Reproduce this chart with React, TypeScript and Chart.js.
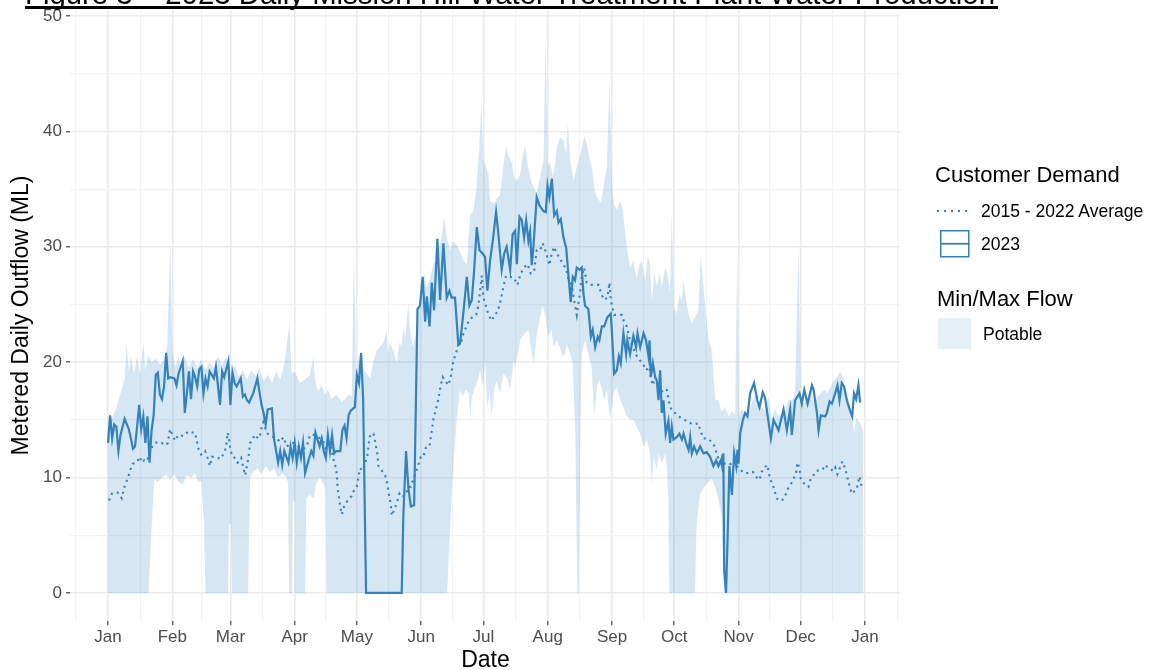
import React, { useEffect, useRef } from 'react';
import { Chart, registerables } from 'chart.js';

Chart.register(...registerables);

// ---------- axis definitions ----------
const monthDays = [0, 31, 59, 90, 120, 151, 181, 212, 243, 273, 304, 334, 365];
const monthLabels = ['Jan', 'Feb', 'Mar', 'Apr', 'May', 'Jun', 'Jul', 'Aug', 'Sep', 'Oct', 'Nov', 'Dec', 'Jan'];
const minorDays = [-15.5, 15.5, 45, 74.5, 105, 135.5, 166, 196.5, 227.5, 258, 288.5, 319, 349.5, 380.5];
const yTickValues = [0, 5, 10, 15, 20, 25, 30, 35, 40, 45, 50];

// ---------- 2023 daily outflow (day of year, ML) ----------
const days2023 = [
  0, 1, 2, 3, 4, 5, 6, 8, 10, 11, 12, 13, 14, 15, 16, 17, 18, 19, 20, 21, 22, 23, 24, 25, 26, 27, 28, 29, 30, 32, 33, 34, 36, 37, 38, 39, 40, 41, 42, 43, 44, 45, 46, 47, 48, 49, 51, 52, 54, 55, 56, 58, 59, 60, 61, 62, 64, 65, 66, 67, 68, 70, 72, 74, 75, 76, 77, 79, 80, 82, 83, 84, 85, 87, 88,
  89, 90, 91, 92, 93, 94, 95, 97, 98, 99, 100, 102, 103, 104, 105, 106, 107, 108, 109, 110, 112, 113, 114, 115, 116, 117, 119, 120, 121, 122, 123, 124.4, 141.6, 142.4, 143.7, 144.8, 146, 147.6,
  149.2, 150.4, 151.7, 152.9, 153.7, 155, 156.1, 157.2, 158.8, 160.1, 161.7, 163.3, 164.6, 165.7, 167.3, 168.9, 169.7, 171.3, 173, 174.2, 175.4, 176.5, 177.8, 179.1, 180.7, 181.8, 182.9, 184.2, 185.5, 187.1, 188.2, 189.8, 191, 192.2, 193.9, 195.1, 196.3, 197.1, 198.4, 199.5, 200.6, 201.6, 202.7, 203.5, 204.3, 205.1, 206.7, 208, 209.9, 211.1, 211.9, 212.8, 214, 215.1, 216.4, 217.2, 218.3, 219.6, 220.9, 222, 223.1, 224.1, 225.2, 226, 227.3, 228.4, 229.2, 230, 231.6, 232.8, 233.7, 234.9, 236.1, 236.9, 238.1, 239.2, 240.8, 242.4, 243, 244, 245.3, 246.3, 247.2, 248.5, 249.8, 250.4, 251.7, 253.3, 254.6, 255.3, 256.6, 258.2, 259.4, 260.6, 261.1, 261.7, 262.7, 263.8, 264.6, 265.4, 266.2, 267, 267.8, 268.9, 270.2, 271, 271.8, 272.6, 274.2, 275.5, 276.7, 277.5, 278.7, 279.9, 280.7, 281.5, 282.6, 283.9, 285.5, 287.1, 288.7, 290.3, 291.9, 293.2, 294.3, 295.5, 296.4, 296.7, 297.1, 298, 298.8, 299.6, 300.8, 301.9, 302.9, 303.5, 304, 304.8, 306.1, 307.2, 308.3, 309.6, 311.5, 313.1, 314.1, 315.7, 316.8, 319.6, 320.9, 322.5, 323.3, 325.7, 327.3, 328.9, 329.7, 331.3, 333.4, 334.5, 335.7, 337.3, 339.4, 340.2, 341.8, 342.6, 343.7, 345.8, 346.6, 347.9, 349, 350.6, 351.7, 352.7, 353.8, 354.9, 356.2, 357.8, 358.8, 359.7, 360.7, 361.8, 362.6,
];
const values2023 = [
  13.0, 15.4, 13.4, 14.6, 14.4, 12.3, 13.7, 15.1, 14.2, 13.4, 12.5, 12.7, 14.4, 16.3, 14.2, 15.3, 13.0, 15.3, 11.3, 14.1, 15.4, 18.9, 19.1, 17.2, 16.8, 17.9, 20.8, 18.6, 18.7, 18.6, 18.0, 19.0, 20.1, 15.6, 17.3, 19.2, 16.8, 19.2, 18.7, 17.9, 19.4, 19.6, 17.3, 18.6, 17.9, 19.2, 18.6, 19.6, 16.3, 19.2, 18.7, 20.1, 16.3, 19.1, 18.2, 17.9, 18.6, 17.0, 17.2, 16.7, 16.5, 17.3, 18.6, 16.3, 15.6, 14.6, 15.9, 16.0, 13.4, 11.3, 12.3, 11.1, 12.3, 11.3, 12.7,
  11.7, 13.0, 11.3, 12.7, 11.7, 13.0, 10.4, 11.7, 12.3, 11.9, 13.9, 12.7, 13.4, 12.3, 11.7, 13.7, 12.3, 13.7, 12.1, 12.3, 12.3, 14.1, 14.5, 13.4, 15.4, 15.8, 16.1, 18.9, 18.2, 20.8, 16.8, 0, 0, 6.8, 12.3, 9.1, 7.5, 7.6,
  24.6, 24.9, 27.4, 23.5, 25.7, 23.1, 26.9, 24.5, 30.7, 25.4, 30.3, 25.6, 26.2, 25.6, 25.6, 21.5, 21.6, 24.2, 27.4, 24.9, 25.4, 27.9, 31.7, 29.7, 29.4, 29.1, 26.2, 28.8, 30.5, 33.0, 31.1, 28.0, 29.4, 30.0, 28.0, 31.1, 31.4, 28.5, 32.6, 32.3, 30.8, 32.3, 30.5, 31.3, 28.4, 30.0, 34.3, 33.6, 33.1, 33.0, 35.3, 34.3, 35.9, 32.7, 33.1, 32.1, 32.4, 30.8, 29.9, 27.5, 25.2, 27.4, 27.1, 28.2, 28.0, 28.2, 26.0, 24.9, 24.6, 22.2, 22.8, 21.3, 22.2, 21.9, 23.1, 23.1, 23.9, 24.2, 22.5, 19.0, 19.3, 20.5, 19.9, 22.5, 20.7, 21.9, 20.7, 22.3, 21.3, 22.5, 21.3, 22.5, 21.9, 20.5, 21.9, 18.7, 19.9, 18.7, 18.4, 16.7, 19.3, 15.6, 16.7, 13.8, 14.9, 13.0, 14.4, 13.3, 13.5, 13.8, 13.3, 13.8, 13.0, 12.4, 13.5, 12.1, 12.7, 12.1, 12.7, 12.1, 12.2, 11.8, 11.0, 11.5, 11.0, 11.5, 10.7, 12.1, 2.0, 0, 5.2, 11.0, 8.5, 12.1, 11.0, 12.4, 11.2, 13.8, 15.0, 15.6, 15.3, 17.3, 18.2, 16.7, 16.1, 17.4, 16.9, 13.4, 15.0, 14.4, 14.1, 15.9, 14.1, 15.9, 13.7, 16.7, 17.3, 16.4, 17.6, 16.4, 18.0, 17.6, 15.6, 14.1, 15.4, 15.3, 15.6, 16.6, 16.4, 17.3, 18.0, 16.7, 18.2, 17.9, 16.7, 15.8, 15.3, 17.3, 16.8, 18.0, 16.5,
];

// ---------- 2015 - 2022 average (day of year, ML) ----------
const avgDays = [
  0.5, 1.8, 3, 4.6, 5.8, 6.6, 8.2, 9.5, 10.6, 11.9, 13.8, 15.4, 16.2, 17.5, 18.7, 19.5, 20.3, 21.4, 22.7, 24.3, 25.9, 27.8, 28.8, 29.9, 31, 32.3, 33.9, 36.3, 38.7, 40.4, 41.9, 43.6, 44.9, 46.8, 48.4, 49.2, 50, 52.4, 54, 55.6, 56.9, 57.7, 58.4, 58.9, 60, 61.3, 62.5, 64.2, 65.3, 66.1, 66.9, 67.7, 68.5, 69.6, 70.6, 71.7, 73, 74.1, 74.9, 76, 77, 78.1, 79.7, 81.3, 83, 84.6, 86.2, 87.8,
  89.4, 91.8, 94.2, 95.8, 97.4, 99, 100.6, 102.2, 103.8, 105.1, 106.2, 107.4, 108.3, 109.5, 110.3, 110.7, 111.4, 111.9, 112.7, 113.8, 115.1, 116.4, 117.5, 118.6, 119.9, 120.7, 121.5, 122.8, 123.9, 125, 126, 126.7, 128, 128.7, 129.2, 129.9, 130.4, 132, 133.6, 134.7, 135.7, 136.3, 136.8, 138, 139.2, 140.5, 141.6, 142.4, 143.7, 144.8, 146, 147.2, 148.5, 149.6, 150.8, 152, 153.3, 155, 156.1, 156.9, 158.2, 159.3, 160.4, 161.4, 162.5, 164.1, 165.2, 166.5, 167.8, 168.9, 170, 171.4, 172.6, 174.2, 175.8, 177.5, 178.6, 179.7, 180.2, 181,
  182.3, 183.4, 185, 186.6, 187.7, 189, 190.6, 191.9, 193.9, 195.8, 197.4, 199, 200.6, 202.2, 203.8, 205.4, 206.7, 208.3, 209.6, 211.2, 212.8, 213.9, 215.1, 216.4, 217.6, 219.3, 220.9, 222, 223.6, 224.7, 226, 226.8, 227.6, 228.4, 229.5, 230.8, 232.7, 234.9, 236.5, 238.1, 239.2, 240.8, 241.8, 242.4, 244, 246.1, 247.7, 248.8, 250.1, 251.7, 253.3, 255, 256.2, 257.8, 259.4, 261, 261.7, 262.7, 263.8, 265.4, 266.5, 268, 269.4, 270.7, 271.8, 272.6,
  274, 276, 278, 280, 282, 284.6, 285.4, 287, 289, 291, 292.5, 293.6, 295, 296, 297.3, 299.6, 301, 302.3, 303.2, 304.4, 306.4, 308.3, 310.9, 312.8, 314.1, 315.2, 316.8, 317.9, 319.2, 320.5, 321.6, 322.4, 323.7, 324.8, 325.9, 326.9, 328, 329.2, 330.5, 331.7, 332.4, 333.4, 334, 335, 336.1, 337.7, 338.8, 340.1, 341.7, 343, 344.6, 345.7, 346.9, 348.2, 349.4, 350.6, 351.7, 353, 354.1, 355.4, 356.5, 357.5, 358.6, 359.7, 361, 362.3, 363.4,
];
const avgValues = [
  8.0, 8.6, 8.7, 8.7, 8.4, 8.2, 9.4, 9.9, 10.6, 11.2, 11.3, 11.8, 11.3, 11.5, 11.4, 11.8, 12.3, 12.7, 13.0, 13.1, 13.0, 12.8, 13.0, 14.2, 13.7, 13.2, 13.7, 13.6, 14.0, 13.9, 13.9, 12.5, 12.0, 12.3, 11.5, 11.0, 11.8, 11.8, 11.6, 12.0, 12.6, 13.9, 13.2, 12.5, 11.8, 11.7, 11.3, 11.7, 10.8, 10.2, 11.0, 11.7, 13.0, 13.2, 13.7, 13.5, 13.4, 14.4, 14.8, 14.2, 13.8, 13.7, 13.5, 13.4, 13.1, 13.5, 12.7, 12.9,
  13.0, 12.7, 12.5, 12.7, 13.7, 13.7, 13.6, 13.4, 13.1, 12.4, 13.2, 12.9, 11.8, 11.1, 10.3, 9.1, 8.2, 7.5, 6.8, 7.5, 7.9, 8.2, 8.4, 8.9, 9.2, 10.0, 10.8, 10.6, 11.2, 11.8, 13.4, 13.8, 13.8, 13.2, 12.7, 12.0, 11.0, 10.6, 10.2, 9.4, 8.2, 7.8, 6.7, 7.2, 7.8, 8.6, 8.3, 8.4, 8.6, 9.2, 9.2, 9.9, 10.5, 11.1, 11.8, 11.8, 12.6, 12.7, 14.1, 15.1, 16.0, 16.8, 18.0, 18.7, 18.4, 18.0, 18.7, 20.1, 20.8, 21.5, 21.6, 22.5, 23.0, 23.7, 23.9, 24.1, 24.9, 26.7, 27.5, 25.6,
  24.8, 24.1, 23.6, 24.2, 24.3, 25.1, 26.5, 27.5, 27.4, 27.3, 26.7, 27.7, 28.2, 28.5, 27.7, 27.8, 29.7, 29.7, 30.3, 29.5, 28.4, 29.4, 30.0, 29.4, 29.1, 28.5, 28.1, 27.1, 26.7, 25.4, 24.1, 25.1, 26.0, 27.4, 28.2, 26.9, 26.7, 26.7, 26.7, 25.8, 25.4, 25.6, 26.9, 25.4, 24.1, 24.1, 24.1, 23.5, 23.1, 21.9, 21.2, 20.5, 20.2, 19.9, 19.3, 19.6, 18.7, 18.0, 18.7, 17.9, 17.3, 17.7, 17.6, 16.4, 15.8, 15.7,
  15.5, 15.2, 15.0, 14.8, 14.6, 14.7, 14.2, 13.4, 13.4, 13.1, 12.7, 12.0, 11.3, 11.8, 11.2, 11.1, 11.3, 11.8, 11.0, 10.8, 10.4, 10.4, 10.5, 10.0, 9.8, 10.5, 10.9, 11.1, 9.9, 9.4, 8.7, 8.2, 8.0, 8.0, 8.2, 8.6, 9.1, 9.4, 9.9, 10.3, 11.3, 10.8, 9.9, 9.6, 9.4, 9.2, 9.9, 10.2, 10.6, 10.6, 10.7, 11.1, 10.9, 10.8, 10.6, 10.9, 10.3, 10.9, 11.4, 10.8, 10.0, 9.3, 8.6, 8.8, 9.0, 10.1, 9.2,
];

// ---------- Min / Max flow envelope (Potable) ----------
const maxDays = [
  0, 2, 4, 6, 8, 9, 10, 11, 12.5, 14, 15.5, 17, 18, 19.5, 21, 23, 25, 27, 28.5, 30, 31, 32.5, 34, 35.5, 37, 39, 41, 43, 45, 47, 49, 51, 53, 55, 57, 59, 61, 63, 65, 67, 69, 71, 73, 75, 77, 79, 81, 83, 85, 87.4, 88.5, 90, 92.6, 95, 97.4, 99, 100, 101.4, 103, 104.6, 106, 107.8, 110, 112.7, 114.3, 116, 117.5, 118.6, 119.6, 120.7, 121.8, 123, 125, 126.5, 128, 129.5, 131, 132.8, 134.4, 135, 136, 137.5, 139.2, 140.5, 141.5, 142.4, 143.2, 144.8, 145.6, 147, 148.5, 149.6, 151, 152.5, 153.5, 154.8, 156.9, 158.5, 160.9, 162, 163.3, 164.9, 166.5, 168.5, 169.7, 171.3, 173, 174.6, 176.2, 177.8, 179, 180, 181, 181.8, 183.4, 184.2, 185.8, 187.4, 189, 190.6, 191.9, 193, 194.6, 195.8, 197.1, 198.7, 200, 201.1, 202.2, 203.8, 205.1, 206.7, 208.3, 210, 211, 212, 213.2, 214.5, 215.6, 216.4, 218, 219.6, 220.9, 221.7, 222.8, 224.5, 226, 227.6, 228.9, 229.7, 230.8, 232, 233.2, 234.9, 236.5, 237.7, 239.2, 240.5, 241.8, 243, 244, 245.3, 246.9, 248.2, 250.1, 251.7, 253.3, 254.9, 256.2, 257.4, 259, 260.1, 261.1, 262.2, 263.4, 264.6, 265.9, 267, 268.6, 269.7, 271, 271.8, 272.8, 274.2, 275.5, 276.6, 277.5, 278.7, 279.9, 281.5, 283, 284.6, 285.8, 287.1, 288.3, 289.5, 290.8, 291.7, 292.7, 294.3, 295.9, 297.6, 299.2, 300.8, 302.4, 303.3, 304.2, 305.4, 307.2, 308.8, 310.4, 312, 313.6, 315.2, 316.8, 318.4, 320, 321.6, 323.2, 324.8, 326.4, 328, 329.7, 331.3, 332.9, 334, 335.7, 337.3, 338.9, 340.5, 342.1, 343.7, 345.3, 346.9, 348.5, 349.8, 351.4, 353, 354.5, 355.7, 357, 358.6, 359.8, 360.8, 362.5, 364,
];
const maxValues = [
  14.5, 15.2, 16.0, 17.3, 18.5, 21.6, 19.2, 20.5, 19.0, 20.5, 19.0, 21.7, 19.3, 20.6, 20.0, 20.3, 19.8, 20.2, 21.2, 30.3, 21.0, 19.6, 20.5, 19.3, 20.5, 19.5, 20.3, 19.5, 20.3, 19.3, 20.0, 19.5, 20.5, 19.8, 20.5, 19.0, 19.8, 18.8, 19.3, 18.5, 19.3, 18.8, 19.5, 18.3, 18.9, 18.2, 19.2, 18.5, 19.8, 23.3, 19.0, 19.2, 18.2, 18.5, 18.9, 20.4, 18.2, 17.5, 18.0, 17.2, 17.6, 16.8, 17.2, 16.5, 16.8, 17.2, 17.0, 29.7, 18.5, 20.6, 19.6, 19.4, 18.9, 18.6, 20.1, 21.0, 21.3, 21.7, 22.7, 20.7, 21.7, 21.0, 19.9, 21.7, 21.4, 23.1, 22.0, 25.1, 22.6, 21.3, 22.4, 24.5, 25.4, 27.7, 26.5, 27.0, 28.5, 29.1, 30.8, 32.7, 30.8, 29.7, 30.5, 30.0, 29.6, 28.8, 28.4, 32.7, 33.1, 35.4, 38.5, 42.5, 37.6, 37.2, 36.3, 34.0, 33.7, 34.2, 34.5, 36.9, 38.8, 37.9, 37.3, 36.1, 35.7, 36.3, 37.8, 38.8, 37.2, 35.8, 35.2, 34.6, 36.0, 37.5, 48.1, 37.0, 37.3, 36.1, 37.3, 38.6, 39.5, 39.2, 38.0, 40.7, 37.5, 35.7, 36.9, 38.0, 38.9, 39.6, 38.9, 37.8, 36.9, 34.6, 34.1, 33.8, 35.5, 36.9, 44.4, 35.2, 33.7, 33.2, 34.0, 33.2, 30.0, 28.2, 28.8, 27.3, 28.4, 28.8, 26.9, 29.1, 28.8, 25.4, 27.7, 26.5, 27.7, 26.5, 28.2, 27.7, 26.0, 32.9, 24.8, 24.2, 25.9, 25.3, 27.1, 25.4, 24.2, 23.3, 23.9, 24.5, 29.3, 26.5, 24.2, 21.9, 21.3, 19.6, 16.7, 16.7, 15.7, 16.1, 15.3, 15.7, 15.4, 29.5, 15.3, 15.9, 15.6, 15.5, 16.4, 17.3, 16.4, 16.1, 15.8, 17.0, 15.0, 15.9, 15.3, 15.6, 15.7, 16.7, 16.7, 17.3, 30.2, 16.9, 16.4, 17.0, 17.6, 16.4, 17.0, 17.3, 17.6, 17.3, 17.9, 18.4, 18.7, 19.2, 18.6, 17.3, 16.8, 15.5, 13.9, 15.2, 14.8, 14.1,
];
const minDays = [
  0, 19.5, 20.8, 22.3, 24, 26, 28, 30, 32, 34, 36, 38, 40, 42, 43.5, 45, 46.3, 47, 57.8, 58.3, 59.3, 59.8, 67.5, 68.5, 70, 72, 74, 76, 78, 80, 82, 84, 86, 86.8, 87.3, 88.6, 89.1, 90.2, 90.6, 95, 95.6, 97, 99, 100.5, 102, 103.5, 104.8, 105.4, 163.5, 165.7, 166.5, 168.1, 169.7, 171, 172.5, 174, 174.6, 175.4, 176.5, 178.1, 179.4, 180.7, 181.8, 182.9, 184, 185, 186.1, 187.4, 189, 190.6, 192.2, 193.9, 195.5, 196.3, 198.7, 200.9, 202.7, 204.3, 205.4, 206.7, 208.3, 209.6, 210.7, 212.3, 213.9, 214.8, 216.4, 218, 219.3, 220.4, 221.2, 222.8, 224.1, 225.3, 226.3, 227, 227.8, 228.4, 230, 231.6, 233.2, 234.4, 235.7, 236.9, 238.1, 239.2, 240.5, 242, 243.7, 245.3, 246.9, 248.5, 250.1, 251.7, 253.3, 254.9, 256.6, 258.2, 259.8, 261.3, 262.2, 263, 264.6, 265.4, 267, 268.6, 269.4, 270.2, 270.7, 283, 283.6, 284.1, 285.5, 287.1, 288.7, 291.1, 292.7, 294.3, 295.9, 296.9, 364,
];
const minValues = [
  0, 0, 5.0, 9.9, 9.6, 10.0, 10.3, 9.8, 10.3, 9.6, 9.4, 10.2, 10.0, 10.4, 9.6, 9.7, 6.0, 0, 0, 6.0, 6.0, 0, 0, 10.0, 10.5, 10.8, 10.3, 11.0, 10.5, 10.8, 10.0, 10.4, 10.0, 9.5, 0, 0, 8.0, 8.0, 0, 0, 8.2, 8.5, 8.2, 9.5, 10.0, 9.6, 9.0, 0, 0, 8.6, 11.0, 15.0, 17.6, 17.0, 17.6, 17.3, 15.0, 17.0, 17.6, 18.4, 19.3, 17.9, 20.2, 15.9, 17.6, 15.3, 17.6, 18.4, 17.3, 19.0, 18.7, 17.6, 20.2, 19.6, 21.9, 22.5, 22.8, 20.7, 19.9, 22.5, 23.9, 24.9, 24.2, 22.2, 22.8, 21.3, 21.9, 21.2, 20.5, 20.7, 21.6, 20.7, 19.9, 14.0, 0, 0, 15.0, 20.7, 21.9, 20.7, 19.6, 15.3, 17.9, 18.5, 17.6, 16.7, 17.6, 15.1, 17.3, 17.9, 16.7, 16.1, 15.3, 15.0, 15.0, 14.4, 13.8, 12.7, 13.3, 12.1, 9.4, 11.8, 10.7, 12.1, 11.2, 12.1, 11.0, 8.0, 0, 0, 5.0, 6.6, 8.6, 9.1, 9.5, 9.9, 9.2, 8.1, 6.6, 0, 0,
];

const BLUE = '#3182bd';
const FONT = "'Liberation Sans', Arial, Helvetica, sans-serif";

const CANVAS_TOP = -20;
const CANVAS_H = 690;

export default function App() {
  const canvasRef = useRef<HTMLCanvasElement>(null);

  useEffect(() => {
    const canvas = canvasRef.current;
    if (!canvas) return;

    const line2023 = days2023.map((d, i) => ({ x: d, y: values2023[i] }));
    const avgLine = avgDays.map((d, i) => ({ x: d, y: avgValues[i] }));
    const upper = maxDays.map((d, i) => ({ x: d, y: maxValues[i] }));
    const lower = minDays.map((d, i) => ({ x: d, y: minValues[i] })).reverse();
    const ribbon = [...upper, ...lower];

    const isMonth = (v: number) => monthDays.indexOf(v) >= 0;

    const chart = new Chart(canvas, {
      type: 'line',
      data: {
        datasets: [
          {
            label: '2023',
            data: line2023,
            borderColor: BLUE,
            borderWidth: 2.2,
            pointRadius: 0,
            fill: false,
            tension: 0,
            order: 0,
          },
          {
            label: '2015 - 2022 Average',
            data: avgLine,
            borderColor: BLUE,
            borderWidth: 2.1,
            borderDash: [2.1, 4.2],
            borderCapStyle: 'butt',
            pointRadius: 0,
            fill: false,
            tension: 0,
            order: 1,
          },
          {
            label: 'Potable',
            data: ribbon,
            borderColor: 'rgba(0,0,0,0)',
            borderWidth: 0,
            backgroundColor: 'rgba(49,130,189,0.2)',
            pointRadius: 0,
            fill: 'shape',
            tension: 0,
            order: 2,
          },
        ],
      },
      options: {
        animation: false,
        responsive: false,
        maintainAspectRatio: false,
        devicePixelRatio: 1,
        events: [],
        layout: { padding: { top: 30.2, right: 248.3, bottom: 0, left: 0 } },
        plugins: {
          legend: { display: false },
          tooltip: { enabled: false },
          title: { display: false },
          filler: { propagate: false, drawTime: 'beforeDatasetsDraw' },
        },
        scales: {
          x: {
            type: 'linear',
            min: -18.2,
            max: 382.2,
            afterFit: (s: any) => {
              s.height = 49.3;
            },
            afterBuildTicks: (s: any) => {
              const vals = [...minorDays, ...monthDays].sort((a, b) => a - b);
              s.ticks = vals.map((v) => ({ value: v }));
            },
            ticks: {
              autoSkip: false,
              maxRotation: 0,
              minRotation: 0,
              padding: 1.6,
              color: '#4d4d4d',
              font: { family: FONT, size: 17 },
              callback: (v: any) => {
                const i = monthDays.indexOf(Number(v));
                return i >= 0 ? monthLabels[i] : '';
              },
            },
            grid: {
              drawOnChartArea: true,
              drawTicks: true,
              tickLength: 4.5,
              color: (ctx: any) => (ctx.tick && isMonth(ctx.tick.value) ? '#ebebeb' : '#f3f3f3'),
              lineWidth: (ctx: any) => (ctx.tick && isMonth(ctx.tick.value) ? 1.6 : 1.2),
              tickColor: (ctx: any) => (ctx.tick && isMonth(ctx.tick.value) ? '#333333' : 'rgba(0,0,0,0)'),
              tickWidth: 1.1,
            },
            border: { display: false },
          },
          y: {
            type: 'linear',
            min: -2.405,
            max: 50.505,
            afterFit: (s: any) => {
              s.width = 70.3;
            },
            afterBuildTicks: (s: any) => {
              s.ticks = yTickValues.map((v) => ({ value: v }));
            },
            ticks: {
              autoSkip: false,
              padding: 4,
              color: '#4d4d4d',
              font: { family: FONT, size: 17 },
              callback: (v: any) => (Number(v) % 10 === 0 ? String(v) : ''),
            },
            grid: {
              drawOnChartArea: true,
              drawTicks: true,
              tickLength: 4.3,
              color: (ctx: any) => (ctx.tick && ctx.tick.value % 10 === 0 ? '#ebebeb' : '#f3f3f3'),
              lineWidth: (ctx: any) => (ctx.tick && ctx.tick.value % 10 === 0 ? 1.6 : 1.2),
              tickColor: (ctx: any) => (ctx.tick && ctx.tick.value % 10 === 0 ? '#333333' : 'rgba(0,0,0,0)'),
              tickWidth: 1.1,
            },
            border: { display: false },
          },
        },
      } as any,
    });

    return () => chart.destroy();
  }, []);

  return (
    <div
      style={{
        position: 'fixed',
        left: 0,
        top: 0,
        width: 1149,
        height: 670,
        overflow: 'hidden',
        background: '#ffffff',
      }}
    >
      <canvas
        ref={canvasRef}
        width={1149}
        height={CANVAS_H}
        style={{ position: 'absolute', left: 0, top: CANVAS_TOP, width: 1149, height: CANVAS_H }}
      />
      <svg
        width={1149}
        height={670}
        style={{ position: 'absolute', left: 0, top: 0, pointerEvents: 'none', fontFamily: FONT }}
      >
        {/* figure title (cut off at the top) */}
        <text x={25} y={4} fontSize={29} fill="#000" textLength={970} lengthAdjust="spacingAndGlyphs">
          Figure 3 – 2023 Daily Mission Hill Water Treatment Plant Water Production
        </text>
        <rect x={25} y={6} width={973} height={3} fill="#000" />

        {/* axis titles */}
        <text x={485.5} y={667} fontSize={23} textAnchor="middle" fill="#000">
          Date
        </text>
        <text transform="translate(28.2, 315.5) rotate(-90)" fontSize={23} textAnchor="middle" fill="#000">
          Metered Daily Outflow (ML)
        </text>

        {/* legend: Customer Demand */}
        <text x={935} y={182} fontSize={22} fill="#000">
          Customer Demand
        </text>
        {[937, 944, 951, 958, 965].map((x) => (
          <rect key={x} x={x} y={210} width={2} height={2} fill={BLUE} />
        ))}
        <text x={981} y={217} fontSize={17.5} fill="#000">
          2015 - 2022 Average
        </text>
        <rect x={940.75} y={230.75} width={28} height={26} fill="#ffffff" stroke={BLUE} strokeWidth={1.5} />
        <line x1={940} y1={243.75} x2={969.5} y2={243.75} stroke={BLUE} strokeWidth={1.8} />
        <text x={981} y={250} fontSize={17.5} fill="#000">
          2023
        </text>

        {/* legend: Min/Max Flow */}
        <text x={937} y={306} fontSize={22} fill="#000">
          Min/Max Flow
        </text>
        <rect x={938} y={318} width={33} height={31} fill="rgba(49,130,189,0.12)" />
        <text x={983} y={340} fontSize={17.5} fill="#000">
          Potable
        </text>
      </svg>
    </div>
  );
}
